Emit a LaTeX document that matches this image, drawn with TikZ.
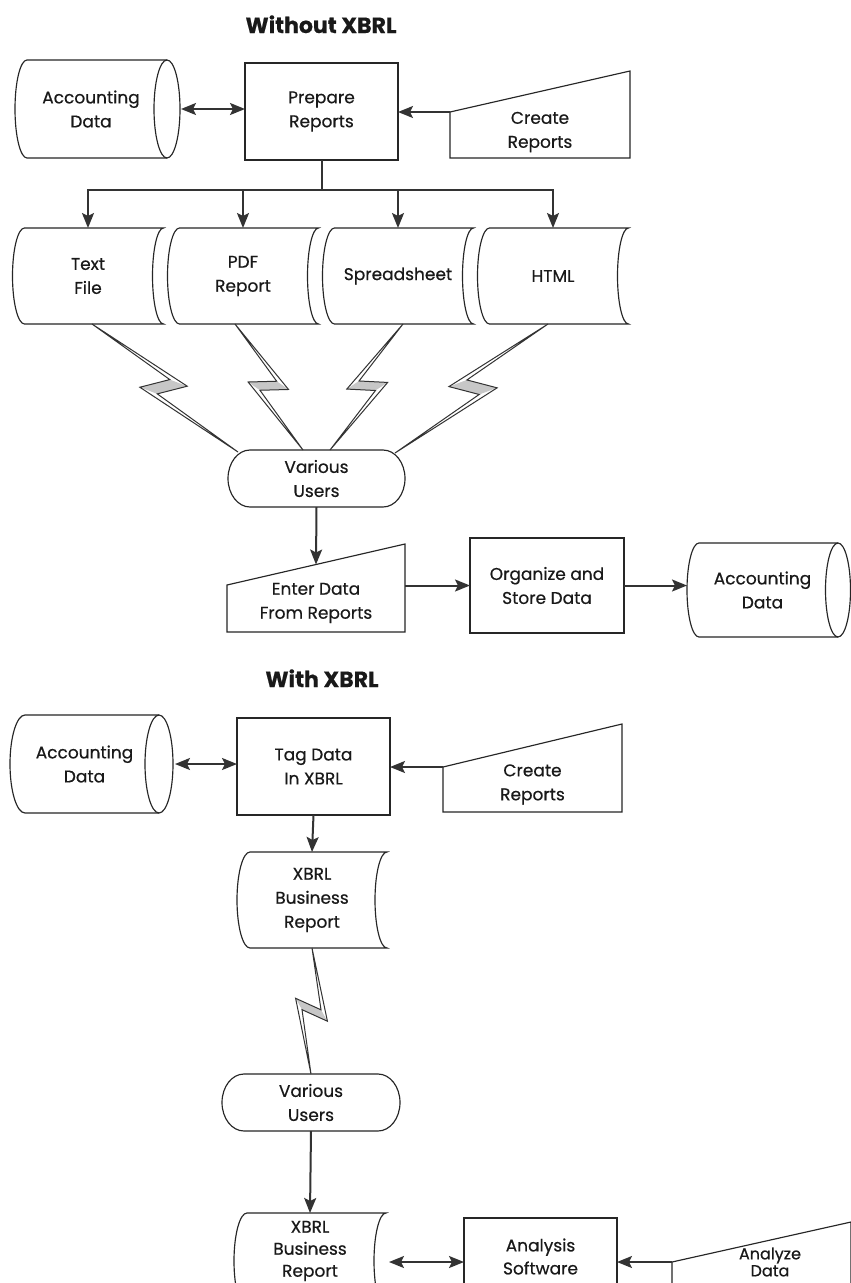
\documentclass[tikz,border=0pt]{standalone}
\usepackage{fontspec}
\setmainfont{Poppins}[FakeBold=0.5]
\usetikzlibrary{calc,arrows.meta}

\tikzset{
  hd/.tip={Stealth[length=15pt,width=12pt,inset=3pt]},
  outline/.style={draw=black!85,line width=1.15pt},
  plain/.style={inner sep=0pt,outer sep=0pt,align=center,text=black!90,
    font=\fontsize{17}{24}\selectfont},
  procbox/.style={plain,outline,minimum width=153pt,minimum height=97pt},
  store/.style={plain,minimum width=151pt,minimum height=96pt},
  term/.style={plain,minimum width=177pt,minimum height=57pt},
  heading/.style={inner sep=0pt,font=\bfseries\fontsize{22}{24}\selectfont,text=black!90},
  wire/.style={draw=black!80,line width=2pt},
  flow/.style={wire,-hd},
  bothway/.style={wire,hd-hd},
  boltline/.style={draw=black!80,line width=1pt,line join=miter},
  boltfill/.style={fill=black!22},
}

% horizontal drum: node spans from the left bulge to the centre of the end ellipse
\newcommand\drawdrum[4]{% node, left radius, ellipse radius, half height
  \draw[outline] ($(#1.north west)+(#2,0)$) -- (#1.north east)
    arc[start angle=90,end angle=-90,x radius=#3,y radius=#4]
    -- ($(#1.south west)+(#2,0)$)
    arc[start angle=270,end angle=90,x radius=#2,y radius=#4] -- cycle;
  \draw[outline] (#1.north east) arc[start angle=90,end angle=270,x radius=#3,y radius=#4];
}
% stored data: convex left side, concave right side
\newcommand\drawstore[4]{% node, left radius, right depth, half height
  \draw[outline] ($(#1.north west)+(#2,0)$) -- (#1.north east)
    arc[start angle=90,end angle=270,x radius=#3,y radius=#4]
    -- ($(#1.south west)+(#2,0)$)
    arc[start angle=270,end angle=90,x radius=#2,y radius=#4] -- cycle;
}
% terminal with elliptic ends
\newcommand\drawterm[3]{% node, end radius, half height
  \draw[outline] ($(#1.north west)+(#2,0)$) -- ($(#1.north east)+(-#2,0)$)
    arc[start angle=90,end angle=-90,x radius=#2,y radius=#3]
    -- ($(#1.south west)+(#2,0)$)
    arc[start angle=270,end angle=90,x radius=#2,y radius=#3] -- cycle;
}
% manual input: sloped top rising to the right
\newcommand\drawmanual[3]{% node, rise of left corner, rise of right corner
  \draw[outline] (#1.south west) -- (#1.south east)
    -- ($(#1.south east)+(0,#3)$) coordinate (#1-tr)
    -- ($(#1.south west)+(0,#2)$) coordinate (#1-tl) -- cycle;
}
% communication link (lightning bolt) between two points
\newcommand\bolt[3]{% start, end, side of the first kink (1 or -1)
  \coordinate (bA) at (#1);
  \coordinate (bB) at (#2);
  \pgfmathsetmacro\bup{90*#3}%
  \pgfmathsetmacro\bdn{-90*#3}%
  \coordinate (bk1) at ($(bA)!0.58!(bB)$);
  \coordinate (bk2) at ($(bA)!0.40!(bB)$);
  \coordinate (bk3) at ($(bA)!0.49!(bB)$);
  \coordinate (bR) at ($(bk1)!16pt!\bup:(bB)$);
  \coordinate (bL) at ($(bk2)!16pt!\bdn:(bB)$);
  \coordinate (bNL) at ($(bk3)!9.5pt!\bup:(bB)$);
  \coordinate (bNR) at ($(bk3)!9.5pt!\bdn:(bB)$);
  \fill[boltfill] (bL) -- (bNL) -- (bR) -- (bNR) -- cycle;
  \draw[boltline] (bA) -- (bR) -- (bNR) -- (bB) -- (bL) -- (bNL) -- cycle;
}

\begin{document}
\begin{tikzpicture}[x=1pt,y=1pt]
\useasboundingbox (0,0) rectangle (851,-1283);
\clip (0,0) rectangle (851,-1283);
\fill[white] (0,0) rectangle (851,-1283);

% ---------------- Without XBRL ----------------
\node[heading,anchor=base] (t1) at (321,-33) {Without XBRL};

\node[plain,minimum width=152pt,minimum height=98pt] (acc1) at (91,-109) {Accounting\\Data};
\drawdrum{acc1}{12}{13}{49}
\node[procbox] (prep) at (321.5,-111.5) {Prepare\\Reports};
\node[plain,minimum width=180pt,minimum height=52pt] (cr1) at (540,-132) {Create\\Reports};
\drawmanual{cr1}{46}{87}

\node[store] (txt)  at (88,-276)  {Text\\File};
\node[store] (pdf)  at (243,-276) {PDF\\Report};
\node[store] (ss)   at (398,-276) {Spreadsheet};
\node[store] (html) at (553,-276) {HTML};
\foreach \d in {txt,pdf,ss,html} {\drawstore{\d}{12}{11}{48}}

\node[term] (us1) at (316.5,-478.5) {Various\\Users};
\drawterm{us1}{22}{28.5}

\node[plain,minimum width=178pt,minimum height=58pt] (ent) at (316,-603) {Enter Data\\From Reports};
\drawmanual{ent}{47}{88}
\node[procbox,minimum width=154pt,minimum height=95pt] (org) at (547,-585.5) {Organize and\\Store Data};
\node[plain,minimum width=151pt,minimum height=94pt] (acc2) at (762.5,-590) {Accounting\\Data};
\drawdrum{acc2}{12}{12.5}{47}

\draw[bothway] ($(acc1.east)+(14,0)$) -- (prep.west |- acc1.east);
\draw[flow] (cr1-tl) -- (cr1-tl -| prep.east);
\draw[wire] (prep.south) -- ++(0,-30) coordinate (split);
\draw[wire,line cap=rect] (txt.north |- split) -- (html.north |- split);
\foreach \d in {txt,pdf,ss,html} {\draw[flow] (\d.north |- split) -- (\d.north);}

\bolt{$(txt.south)+(4,0)$}{$(us1.center)+(-78.5,26.5)$}{1}
\bolt{$(pdf.south)+(-8,0)$}{$(us1.north)+(-13.5,0)$}{1}
\bolt{$(ss.south)+(5,0)$}{$(us1.north)+(13.5,0)$}{-1}
\bolt{$(html.south)+(-5,0)$}{$(us1.center)+(78.5,25.5)$}{-1}

\draw[flow] (us1.south) -- ($(ent-tl)!0.5!(ent-tr)$);
\draw[flow] (ent.east |- org.west) -- (org.west);
\draw[flow] (org.east) -- (org.east -| acc2.west);

% ---------------- With XBRL ----------------
\node[heading,anchor=base] (t2) at (322,-687) {With XBRL};

\node[plain,minimum width=149pt,minimum height=98pt] (acc3) at (84.5,-764) {Accounting\\Data};
\drawdrum{acc3}{15}{14}{49}
\node[procbox] (tag) at (313.5,-766.5) {Tag Data\\In XBRL};
\node[plain,minimum width=179pt,minimum height=55pt] (cr2) at (532.5,-784.5) {Create\\Reports};
\drawmanual{cr2}{45}{88}

\node[store,minimum width=150pt] (xb1) at (312,-900) {XBRL\\Business\\Report};
\drawstore{xb1}{13}{12}{48}
\node[term,minimum width=178pt] (us2) at (311,-1102.5) {Various\\Users};
\drawterm{us2}{22}{28.5}

% bottom row: outlines run past the lower edge, texts sit a little higher
\node[store,minimum width=152pt] (xb2) at (310,-1261) {};
\drawstore{xb2}{13}{12}{48}
\node[plain,font=\fontsize{17}{22}\selectfont] (xb2t) at (310,-1251) {XBRL\\Business\\Report};
\node[procbox] (ana) at (540.5,-1266.5) {};
\node[plain,font=\fontsize{17}{23}\selectfont] (anat) at (540.5,-1256.5) {Analysis\\Software};
\node[plain,minimum width=179pt,minimum height=76pt] (anz) at (761.5,-1300) {};
\drawmanual{anz}{76}{116}
\node[plain,font=\fontsize{16}{17}\selectfont] (anzt) at (770,-1262) {Analyze\\Data};

\draw[bothway] ($(acc3.east)+(16,0)$) -- (tag.west |- acc3.east);
\draw[flow] (cr2-tl) -- (cr2-tl -| tag.east);
\draw[flow] (tag.south) -- (xb1.north);
\bolt{xb1.south}{us2.north}{1}
\draw[flow] (us2.south) -- (xb2.north);
\draw[bothway] ($(xb2.east |- anz-tl)+(3,0)$) -- (ana.west |- anz-tl);
\draw[flow] (anz-tl) -- (anz-tl -| ana.east);
\end{tikzpicture}
\end{document}
